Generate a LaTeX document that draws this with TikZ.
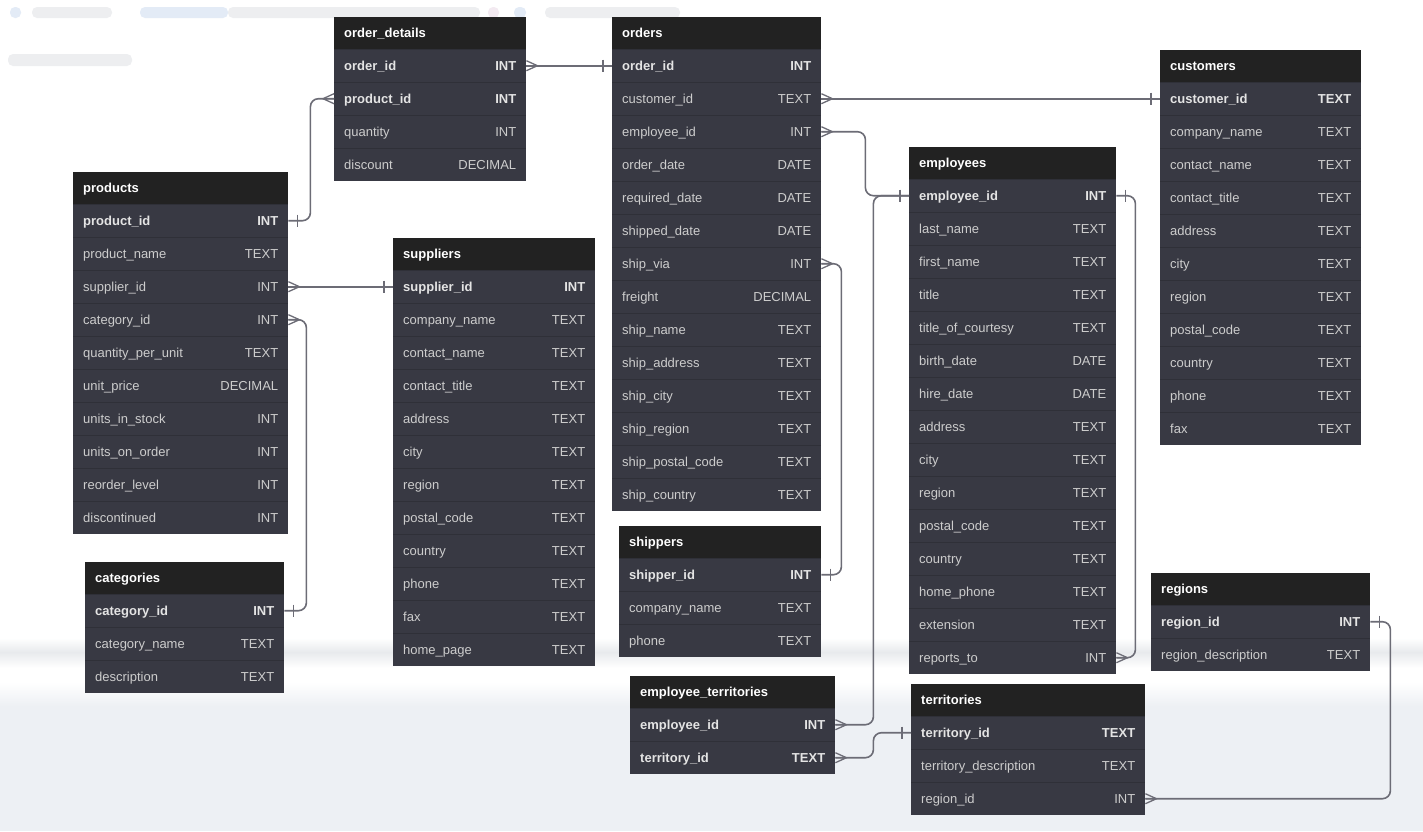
\documentclass[tikz,border=0pt]{standalone}
\usepackage{fontspec}
\setmainfont{Liberation Sans}
\usetikzlibrary{calc}
\definecolor{hdrc}{HTML}{222222}
\definecolor{rowc}{HTML}{383943}
\definecolor{sepc}{HTML}{2F3038}
\definecolor{pkc}{HTML}{E4E4E4}
\definecolor{fdc}{HTML}{CDCDCD}
\definecolor{connc}{HTML}{6C6C76}
\definecolor{bandc}{HTML}{E8EAED}
\definecolor{lowc}{HTML}{EDF0F4}
\definecolor{blurg}{HTML}{E6E8EB}
\definecolor{blurb}{HTML}{D8E3F3}
\definecolor{blurp}{HTML}{EEE2EC}
\tikzset{
 hdr/.style={rectangle, fill=hdrc, minimum height=32pt, inner sep=0pt, draw=none},
 rowbox/.style={rectangle, fill=rowc, minimum height=33pt, inner sep=0pt, draw=none},
 hdrtxt/.style={font=\bfseries\fontsize{13}{15}\selectfont, text=white, inner sep=0pt, text height=9.5pt, text depth=3pt},
 pk/.style={font=\bfseries\fontsize{13}{15}\selectfont, text=pkc, inner sep=0pt, text height=9.5pt, text depth=3pt},
 fd/.style={font=\fontsize{13}{15}\selectfont, text=fdc, inner sep=0pt, text height=9.5pt, text depth=3pt},
 conn/.style={draw=connc, line width=1.6pt, rounded corners=8pt},
 endmark/.style={draw=connc, line width=1.3pt},
 sepline/.style={draw=sepc, line width=0.8pt},
 blurbar/.style={rounded corners=5pt, opacity=0.7}
}
\newcommand\erdtable[6]{%
  \node[hdr, minimum width=#4, anchor=north west] (#1-h) at (#2,#3) {};
  \node[hdrtxt, anchor=west] (#1-t) at ([xshift=10pt,yshift=-1.5pt]#1-h.west) {#5};
  \foreach \f/\t/\s [count=\i] in {#6} {
    \node[rowbox, minimum width=#4, anchor=north west] (#1-\i) at ({#2},{#3+32+33*(\i-1)}) {};
    \draw[sepline] (#1-\i.north west) -- (#1-\i.north east);
    \node[\s, anchor=west] (#1-\i-f) at ([xshift=10pt,yshift=-1.5pt]#1-\i.west) {\f};
    \node[\s, anchor=east] (#1-\i-y) at ([xshift=-10pt,yshift=-1.5pt]#1-\i.east) {\t};
  }
}
\newcommand\manyE[1]{\draw[endmark] ([yshift=5pt]#1) -- ([xshift=11pt]#1) -- ([yshift=-5pt]#1) (#1) -- ([xshift=11pt]#1);}
\newcommand\manyW[1]{\draw[endmark] ([yshift=5pt]#1) -- ([xshift=-11pt]#1) -- ([yshift=-5pt]#1) (#1) -- ([xshift=-11pt]#1);}
\newcommand\oneE[1]{\draw[endmark] ([xshift=9pt,yshift=6pt]#1) -- ([xshift=9pt,yshift=-6pt]#1);}
\newcommand\oneW[1]{\draw[endmark] ([xshift=-9pt,yshift=6pt]#1) -- ([xshift=-9pt,yshift=-6pt]#1);}
\begin{document}
\begin{tikzpicture}[x=1pt,y=-1pt]
\useasboundingbox (0,0) rectangle (1423,831);
% background
\fill[white] (0,0) rectangle (1423,831);
\shade[top color=white, bottom color=bandc] (0,638) rectangle (1423,652);
\shade[top color=bandc, bottom color=white] (0,652) rectangle (1423,668);
\shade[top color=white, bottom color=lowc] (0,682) rectangle (1423,706);
\fill[lowc] (0,706) rectangle (1423,831);
% blurred code in the background
\fill[blurb, blurbar] (10,7) rectangle (21,18);
\fill[blurg, blurbar] (32,7) rectangle (112,18);
\fill[blurb, blurbar] (140,7) rectangle (228,18);
\fill[blurg, blurbar] (228,7) rectangle (480,18);
\fill[blurp, blurbar] (488,7) rectangle (499,18);
\fill[blurb, blurbar] (514,7) rectangle (526,18);
\fill[blurg, blurbar] (545,7) rectangle (680,18);
\fill[blurg, blurbar] (8,54) rectangle (132,66);

% tables
\erdtable{od}{334}{17}{192}{order\_details}{order\_id/INT/pk, product\_id/INT/pk, quantity/INT/fd, discount/DECIMAL/fd}
\erdtable{orders}{612}{17}{209}{orders}{order\_id/INT/pk, customer\_id/TEXT/fd, employee\_id/INT/fd, order\_date/DATE/fd, required\_date/DATE/fd, shipped\_date/DATE/fd, ship\_via/INT/fd, freight/DECIMAL/fd, ship\_name/TEXT/fd, ship\_address/TEXT/fd, ship\_city/TEXT/fd, ship\_region/TEXT/fd, ship\_postal\_code/TEXT/fd, ship\_country/TEXT/fd}
\erdtable{cust}{1160}{50}{201}{customers}{customer\_id/TEXT/pk, company\_name/TEXT/fd, contact\_name/TEXT/fd, contact\_title/TEXT/fd, address/TEXT/fd, city/TEXT/fd, region/TEXT/fd, postal\_code/TEXT/fd, country/TEXT/fd, phone/TEXT/fd, fax/TEXT/fd}
\erdtable{emp}{909}{147}{207}{employees}{employee\_id/INT/pk, last\_name/TEXT/fd, first\_name/TEXT/fd, title/TEXT/fd, title\_of\_courtesy/TEXT/fd, birth\_date/DATE/fd, hire\_date/DATE/fd, address/TEXT/fd, city/TEXT/fd, region/TEXT/fd, postal\_code/TEXT/fd, country/TEXT/fd, home\_phone/TEXT/fd, extension/TEXT/fd, reports\_to/INT/fd}
\erdtable{prod}{73}{172}{215}{products}{product\_id/INT/pk, product\_name/TEXT/fd, supplier\_id/INT/fd, category\_id/INT/fd, quantity\_per\_unit/TEXT/fd, unit\_price/DECIMAL/fd, units\_in\_stock/INT/fd, units\_on\_order/INT/fd, reorder\_level/INT/fd, discontinued/INT/fd}
\erdtable{sup}{393}{238}{202}{suppliers}{supplier\_id/INT/pk, company\_name/TEXT/fd, contact\_name/TEXT/fd, contact\_title/TEXT/fd, address/TEXT/fd, city/TEXT/fd, region/TEXT/fd, postal\_code/TEXT/fd, country/TEXT/fd, phone/TEXT/fd, fax/TEXT/fd, home\_page/TEXT/fd}
\erdtable{cat}{85}{562}{199}{categories}{category\_id/INT/pk, category\_name/TEXT/fd, description/TEXT/fd}
\erdtable{ship}{619}{526}{202}{shippers}{shipper\_id/INT/pk, company\_name/TEXT/fd, phone/TEXT/fd}
\erdtable{et}{630}{676}{205}{employee\_territories}{employee\_id/INT/pk, territory\_id/TEXT/pk}
\erdtable{terr}{911}{684}{234}{territories}{territory\_id/TEXT/pk, territory\_description/TEXT/fd, region\_id/INT/fd}
\erdtable{reg}{1151}{573}{219}{regions}{region\_id/INT/pk, region\_description/TEXT/fd}

% connectors
\draw[conn] (od-1.east) -- (orders-1.west);
\manyE{od-1.east} \oneW{orders-1.west}

\draw[conn] (prod-1.east) -- ++(22,0) |- (od-2.west);
\oneE{prod-1.east} \manyW{od-2.west}

\draw[conn] (orders-2.east) -- (cust-1.west);
\manyE{orders-2.east} \oneW{cust-1.west}

\draw[conn] (orders-3.east) -- ++(44,0) |- (emp-1.west);
\manyE{orders-3.east} \oneW{emp-1.west}

\draw[conn] (orders-7.east) -- ++(20,0) |- (ship-1.east);
\manyE{orders-7.east} \oneE{ship-1.east}

\draw[conn] (prod-3.east) -- (sup-1.west);
\manyE{prod-3.east} \oneW{sup-1.west}

\draw[conn] (prod-4.east) -- ++(18,0) |- (cat-1.east);
\manyE{prod-4.east} \oneE{cat-1.east}

\draw[conn] (emp-1.east) -- ++(19,0) |- (emp-15.east);
\oneE{emp-1.east} \manyE{emp-15.east}

\draw[conn] (et-1.east) -- ++(38,0) |- (emp-1.west);
\manyE{et-1.east}

\draw[conn] (et-2.east) -- ++(38,0) |- (terr-1.west);
\manyE{et-2.east} \oneW{terr-1.west}

\draw[conn] (terr-3.east) -- ++(245,0) |- (reg-1.east);
\manyE{terr-3.east} \oneE{reg-1.east}
\end{tikzpicture}
\end{document}
